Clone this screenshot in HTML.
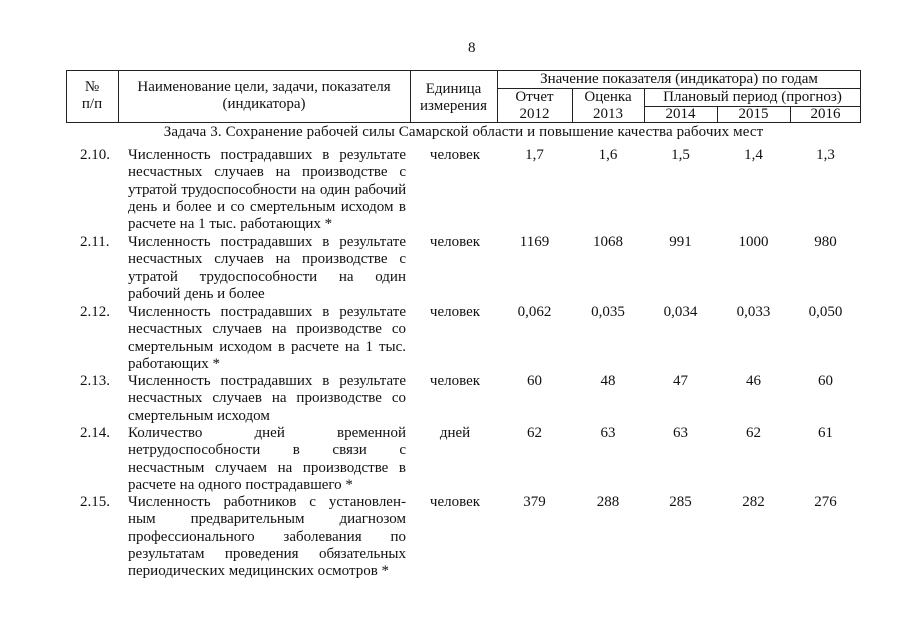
<!DOCTYPE html>
<html><head><meta charset="utf-8"><style>
body{margin:0;width:905px;height:640px;background:#fff;position:relative;font-family:"Liberation Serif",serif;color:#111;font-size:15px;overflow:hidden}
.l{position:absolute;background:#222}
.t{position:absolute;white-space:nowrap;line-height:17px}
.c{text-align:center}
.d{position:absolute;width:278px;line-height:17.3px}
.d div{text-align:justify;text-align-last:justify;white-space:nowrap;height:17.3px}
.d div.e{text-align-last:left}
.d div.n{letter-spacing:-0.15px}
</style></head><body>
<div class="t" style="left:468px;top:40px">8</div>
<div class="l" style="left:66px;top:70px;width:795px;height:1px"></div>
<div class="l" style="left:66px;top:122px;width:795px;height:1px"></div>
<div class="l" style="left:66px;top:70px;width:1px;height:53px"></div>
<div class="l" style="left:860px;top:70px;width:1px;height:53px"></div>
<div class="l" style="left:118px;top:70px;width:1px;height:53px"></div>
<div class="l" style="left:410px;top:70px;width:1px;height:53px"></div>
<div class="l" style="left:497px;top:70px;width:1px;height:53px"></div>
<div class="l" style="left:497px;top:88px;width:364px;height:1px"></div>
<div class="l" style="left:644px;top:106px;width:217px;height:1px"></div>
<div class="l" style="left:572px;top:88px;width:1px;height:35px"></div>
<div class="l" style="left:644px;top:88px;width:1px;height:35px"></div>
<div class="l" style="left:717px;top:106px;width:1px;height:17px"></div>
<div class="l" style="left:790px;top:106px;width:1px;height:17px"></div>
<div class="t c" style="left:66px;width:52px;top:79px">№<br>п/п</div>
<div class="t c" style="left:118px;width:292px;top:79px">Наименование цели, задачи, показателя<br>(индикатора)</div>
<div class="t c" style="left:410px;width:87px;top:81px">Единица<br>измерения</div>
<div class="t c" style="left:497px;width:364px;top:71px">Значение показателя (индикатора) по годам</div>
<div class="t c" style="left:497px;width:75px;top:89px">Отчет<br>2012</div>
<div class="t c" style="left:572px;width:72px;top:89px">Оценка<br>2013</div>
<div class="t c" style="left:644px;width:217px;top:89px">Плановый период (прогноз)</div>
<div class="t c" style="left:644px;width:73px;top:106px">2014</div>
<div class="t c" style="left:717px;width:73px;top:106px">2015</div>
<div class="t c" style="left:790px;width:71px;top:106px">2016</div>
<div class="t c" style="left:66px;width:795px;top:124px;letter-spacing:0.1px">Задача 3. Сохранение рабочей силы Самарской области и повышение качества рабочих мест</div>

<div class="t" style="left:80px;top:147px">2.10.</div>
<div class="d" style="left:128px;top:147px"><div>Численность пострадавших в результате</div><div>несчастных случаев на производстве с</div><div class="n">утратой трудоспособности на один рабочий</div><div>день и более и со смертельным исходом в</div><div class="e">расчете на 1 тыс. работающих *</div></div>
<div class="t c" style="left:415px;width:80px;top:147px">человек</div>
<div class="t c" style="left:497px;width:75px;top:147px">1,7</div><div class="t c" style="left:572px;width:72px;top:147px">1,6</div><div class="t c" style="left:644px;width:73px;top:147px">1,5</div><div class="t c" style="left:717px;width:73px;top:147px">1,4</div><div class="t c" style="left:790px;width:71px;top:147px">1,3</div>

<div class="t" style="left:80px;top:234px">2.11.</div>
<div class="d" style="left:128px;top:234px"><div>Численность пострадавших в результате</div><div>несчастных случаев на производстве с</div><div>утратой трудоспособности на один</div><div class="e">рабочий день и более</div></div>
<div class="t c" style="left:415px;width:80px;top:234px">человек</div>
<div class="t c" style="left:497px;width:75px;top:234px">1169</div><div class="t c" style="left:572px;width:72px;top:234px">1068</div><div class="t c" style="left:644px;width:73px;top:234px">991</div><div class="t c" style="left:717px;width:73px;top:234px">1000</div><div class="t c" style="left:790px;width:71px;top:234px">980</div>

<div class="t" style="left:80px;top:304px">2.12.</div>
<div class="d" style="left:128px;top:304px"><div>Численность пострадавших в результате</div><div>несчастных случаев на производстве со</div><div>смертельным исходом в расчете на 1 тыс.</div><div class="e">работающих *</div></div>
<div class="t c" style="left:415px;width:80px;top:304px">человек</div>
<div class="t c" style="left:497px;width:75px;top:304px">0,062</div><div class="t c" style="left:572px;width:72px;top:304px">0,035</div><div class="t c" style="left:644px;width:73px;top:304px">0,034</div><div class="t c" style="left:717px;width:73px;top:304px">0,033</div><div class="t c" style="left:790px;width:71px;top:304px">0,050</div>

<div class="t" style="left:80px;top:373px">2.13.</div>
<div class="d" style="left:128px;top:373px"><div>Численность пострадавших в результате</div><div>несчастных случаев на производстве со</div><div class="e">смертельным исходом</div></div>
<div class="t c" style="left:415px;width:80px;top:373px">человек</div>
<div class="t c" style="left:497px;width:75px;top:373px">60</div><div class="t c" style="left:572px;width:72px;top:373px">48</div><div class="t c" style="left:644px;width:73px;top:373px">47</div><div class="t c" style="left:717px;width:73px;top:373px">46</div><div class="t c" style="left:790px;width:71px;top:373px">60</div>

<div class="t" style="left:80px;top:425px">2.14.</div>
<div class="d" style="left:128px;top:425px"><div>Количество дней временной</div><div>нетрудоспособности в связи с</div><div>несчастным случаем на производстве в</div><div class="e">расчете на одного пострадавшего *</div></div>
<div class="t c" style="left:415px;width:80px;top:425px">дней</div>
<div class="t c" style="left:497px;width:75px;top:425px">62</div><div class="t c" style="left:572px;width:72px;top:425px">63</div><div class="t c" style="left:644px;width:73px;top:425px">63</div><div class="t c" style="left:717px;width:73px;top:425px">62</div><div class="t c" style="left:790px;width:71px;top:425px">61</div>

<div class="t" style="left:80px;top:494px">2.15.</div>
<div class="d" style="left:128px;top:494px"><div>Численность работников с установлен-</div><div>ным предварительным диагнозом</div><div>профессионального заболевания по</div><div>результатам проведения обязательных</div><div class="e">периодических медицинских осмотров *</div></div>
<div class="t c" style="left:415px;width:80px;top:494px">человек</div>
<div class="t c" style="left:497px;width:75px;top:494px">379</div><div class="t c" style="left:572px;width:72px;top:494px">288</div><div class="t c" style="left:644px;width:73px;top:494px">285</div><div class="t c" style="left:717px;width:73px;top:494px">282</div><div class="t c" style="left:790px;width:71px;top:494px">276</div>
</body></html>
